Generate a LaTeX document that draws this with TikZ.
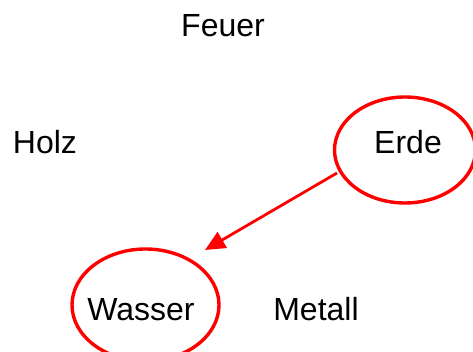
\documentclass[tikz,border=0pt]{standalone}
\usepackage{fontspec}
\setmainfont{Liberation Sans}
\usetikzlibrary{arrows.meta,shapes.geometric}
\begin{document}
\begin{tikzpicture}[x=1pt,y=-1pt,
  lbl/.style={anchor=base,inner sep=0pt,font=\fontsize{32}{36}\selectfont},
  ring/.style={draw=red,line width=3.4pt,ellipse,inner sep=0pt},
  conn/.style={draw=red,line width=2.8pt,-{Triangle[length=20pt,width=18pt]}}]
\useasboundingbox (0,0) rectangle (473,352);
\node[lbl] (feuer) at (223,37) {Feuer};
\node[lbl] (holz) at (45,154) {Holz};
\node[lbl] (erde) at (408,154) {Erde};
\node[lbl] (wasser) at (141,320) {Wasser};
\node[lbl] (metall) at (316,320) {Metall};
\node[ring,minimum width=141pt,minimum height=106pt] (erdering) at (405,150) {};
\node[ring,minimum width=147pt,minimum height=112pt] (wasserring) at (145.5,305) {};
\coordinate (a) at (337,173);
\coordinate (b) at (205,250);
\draw[conn] (a) -- (b);
\end{tikzpicture}
\end{document}
